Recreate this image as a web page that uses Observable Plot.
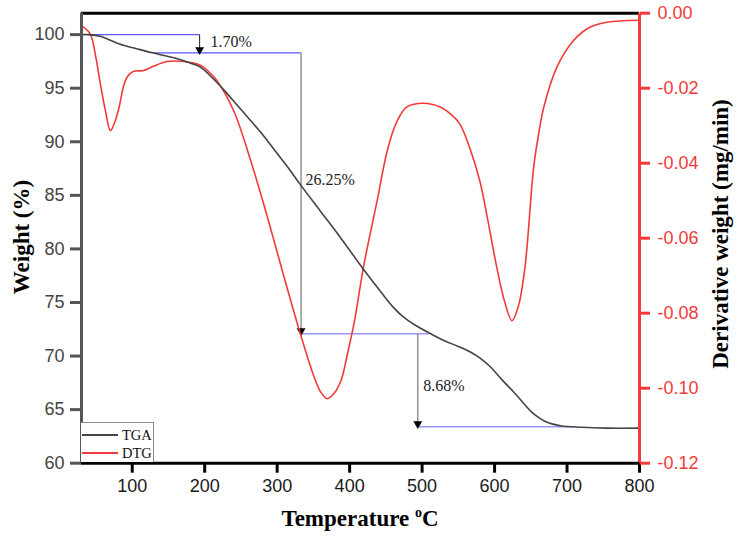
<!DOCTYPE html>
<html><head><meta charset="utf-8">
<script src="https://cdn.jsdelivr.net/npm/d3@7"></script>
<script src="https://cdn.jsdelivr.net/npm/@observablehq/plot@0.6"></script>
<style>
body{margin:0;background:#fff;}
#wrap{position:relative;width:746px;height:539px;overflow:hidden;}
#legend{position:absolute;left:81px;top:422px;width:72px;height:39px;border:1px solid #8a8a8a;border-bottom:none;border-left:none;background:#fff;font-family:"Liberation Serif","Times New Roman",serif;font-size:14.5px;color:#111;}
#legend .row{position:absolute;left:0;height:18px;display:flex;align-items:center;}
#legend .sw{display:inline-block;width:36px;height:0;border-top:2px solid;margin-left:1px;margin-right:4px;}
</style></head><body><div id="wrap"></div>
<script>
// ---- data ----
const tgaT = [30,40,56,70,88,105,128,150,167,180,194,210,227,245,263,282,300,316,332,360,388,418,443,461,475,489,512,530,550,566,580,594,610,627,640,654,670,691,720,755,800];
const tgaW = [100.0,100.0,99.84,99.47,99.0,98.7,98.3,97.95,97.65,97.35,96.97,96.0,94.8,93.4,92.0,90.5,88.9,87.5,86.0,83.5,81.0,78.2,76.0,74.5,73.6,72.95,72.08,71.45,70.9,70.4,69.8,69.0,67.8,66.6,65.6,64.6,63.9,63.5,63.35,63.27,63.27];
const dtgT = [31,42,50,56,63,70,76,82,88,93,102,116,130,148,171,194,205,217,240,263,286,307,332,351,360,369,378,388,398,406,420,438,452,465,479,502,525,540,552,567,580,590,603,614,624,633,642,654,661,668,686,709,732,755,800];
const dtgV = [-0.0035,-0.0055,-0.012,-0.0188,-0.026,-0.0313,-0.029,-0.025,-0.0195,-0.017,-0.0155,-0.0153,-0.0141,-0.0129,-0.0129,-0.0139,-0.0155,-0.018,-0.026,-0.039,-0.054,-0.0686,-0.0855,-0.097,-0.101,-0.1028,-0.1015,-0.098,-0.09,-0.0828,-0.0668,-0.05,-0.0366,-0.029,-0.025,-0.024,-0.025,-0.027,-0.0295,-0.0366,-0.045,-0.0545,-0.0677,-0.077,-0.082,-0.078,-0.0677,-0.041,-0.032,-0.025,-0.0144,-0.0073,-0.0037,-0.0024,-0.0019];

const xDomain = [30, 800];
const yDomain = [60, 102];
const dtgDomain = [-0.12, 0];
const xTicks = [100,200,300,400,500,600,700,800];
const yTicks = [60,65,70,75,80,85,90,95,100];
const dtgTicks = [0,-0.02,-0.04,-0.06,-0.08,-0.10,-0.12];

// step annotation (weight-loss levels)
const levelY  = [100, 98.3, 72.08, 63.4];
const levelX1 = [30, 128, 333, 494];
const levelX2 = [193, 333, 509, 709];
const dropX   = [193, 333, 494];
const dropLabels = ["1.70%", "26.25%", "8.68%"];
const labelX  = [208, 339, 501.5];
const labelY  = [99.33, 86.4, 67.2];

// ---- build tables ----
const toW = v => yDomain[0] + (v - dtgDomain[0]) / (dtgDomain[1] - dtgDomain[0]) * (yDomain[1] - yDomain[0]);
const fromW = w => { const v = dtgDomain[0] + (w - yDomain[0]) / (yDomain[1] - yDomain[0]) * (dtgDomain[1] - dtgDomain[0]); const r = Math.round(v*100)/100; return (r === 0 ? 0 : r).toFixed(2); };
const tga = tgaT.map((t,i) => ({t, w: tgaW[i]}));
const dtg = dtgT.map((t,i) => ({t, w: toW(dtgV[i])}));
const levels = levelY.map((y,i) => ({y, x1: levelX1[i], x2: levelX2[i]}));
const drops = dropX.map((x,i) => ({x, y1: levelY[i], y2: levelY[i+1]}));
const labels = dropLabels.map((s,i) => ({s, x: labelX[i], y: labelY[i]}));

const serif = '"Liberation Serif","Times New Roman",serif';
const red = "#f23a3a";

const svg = Plot.plot({
  width: 746, height: 539,
  marginLeft: 81, marginRight: 107, marginTop: 12.7, marginBottom: 76.3,
  x: {domain: xDomain},
  y: {domain: yDomain},
  style: {fontFamily: '"Liberation Sans", Arial, sans-serif', fontSize: "18px", background: "#fff", overflow: "visible"},
  marks: [
    // annotation guides
    Plot.link(levels.slice(0,2), {x1: "x1", x2: "x2", y1: "y", y2: "y", stroke: "#5a5aff", strokeWidth: 1.1}),
    Plot.link(levels.slice(2), {x1: "x1", x2: "x2", y1: "y", y2: "y", stroke: "#9797f5", strokeWidth: 1.4}),
    Plot.link(drops.slice(0,1), {x1: "x", x2: "x", y1: "y1", y2: "y2", stroke: "#222", strokeWidth: 1}),
    Plot.link(drops.slice(1), {x1: "x", x2: "x", y1: "y1", y2: "y2", stroke: "#8a8a8a", strokeWidth: 1.4}),
    Plot.dot(drops, {x: "x", y: "y2", symbol: "triangle", rotate: 180, r: 3.3, dy: -3, fill: "#000", stroke: null}),
    Plot.text(labels, {x: "x", y: "y", text: "s", textAnchor: "start", fontFamily: serif, fontSize: 16, fill: "#222"}),
    // curves
    Plot.line(dtg, {x: "t", y: "w", stroke: red, strokeWidth: 1.6, curve: "catmull-rom"}),
    Plot.line(tga, {x: "t", y: "w", stroke: "#444", strokeWidth: 1.6, curve: "catmull-rom"}),
    // frame
    Plot.ruleY([yDomain[1]], {stroke: "#000", strokeWidth: 3}),
    Plot.ruleX([xDomain[0]], {stroke: "#555", strokeWidth: 3}),
    Plot.ruleX([xDomain[1]], {stroke: red, strokeWidth: 3}),
    Plot.ruleY([yDomain[0]], {stroke: "#000", strokeWidth: 3}),
    // axes
    Plot.axisX({ticks: xTicks, tickSize: 10, tickPadding: 6, strokeWidth: 3, stroke: "#000", fill: "#1a1a1a", fontSize: 18, label: null, tickFormat: d => String(d)}),
    Plot.axisY({anchor: "left", ticks: yTicks, tickSize: 11, tickPadding: 6, strokeWidth: 3, stroke: "#555", fill: "#444", fontSize: 18, label: null, tickFormat: d => String(d)}),
    Plot.axisY({anchor: "right", ticks: dtgTicks.map(toW), tickSize: 10, tickPadding: 8, strokeWidth: 3, stroke: red, fill: red, fontSize: 18, label: null, tickFormat: fromW})
  ]
});

const s = d3.select(svg);
const xt = s.append("text").attr("x", 360).attr("y", 526).attr("text-anchor", "middle")
  .attr("font-family", serif).attr("font-weight", "bold").attr("font-size", 23).attr("fill", "#000");
xt.append("tspan").text("Temperature ");
xt.append("tspan").attr("font-size", 14).attr("dy", -9).text("o");
xt.append("tspan").attr("dy", 9).text("C");
s.append("text").attr("transform", "translate(28.5,237) rotate(-90)").attr("text-anchor", "middle")
  .attr("font-family", serif).attr("font-weight", "bold").attr("font-size", 23).attr("fill", "#000").text("Weight (%)");
s.append("text").attr("transform", "translate(727.5,234) rotate(-90)").attr("text-anchor", "middle")
  .attr("font-family", serif).attr("font-weight", "bold").attr("font-size", 23).attr("fill", "#000").text("Derivative weight (mg/min)");

const wrap = document.getElementById("wrap");
wrap.appendChild(svg);
const lg = document.createElement("div");
lg.id = "legend";
const series = [["TGA", "#444"], ["DTG", red]];
series.forEach(([name, col], i) => {
  const row = document.createElement("div");
  row.className = "row";
  row.style.top = (3 + i * 18) + "px";
  const sw = document.createElement("span");
  sw.className = "sw"; sw.style.borderTopColor = col;
  row.appendChild(sw);
  row.appendChild(document.createTextNode(name));
  lg.appendChild(row);
});
wrap.appendChild(lg);
</script></body></html>
